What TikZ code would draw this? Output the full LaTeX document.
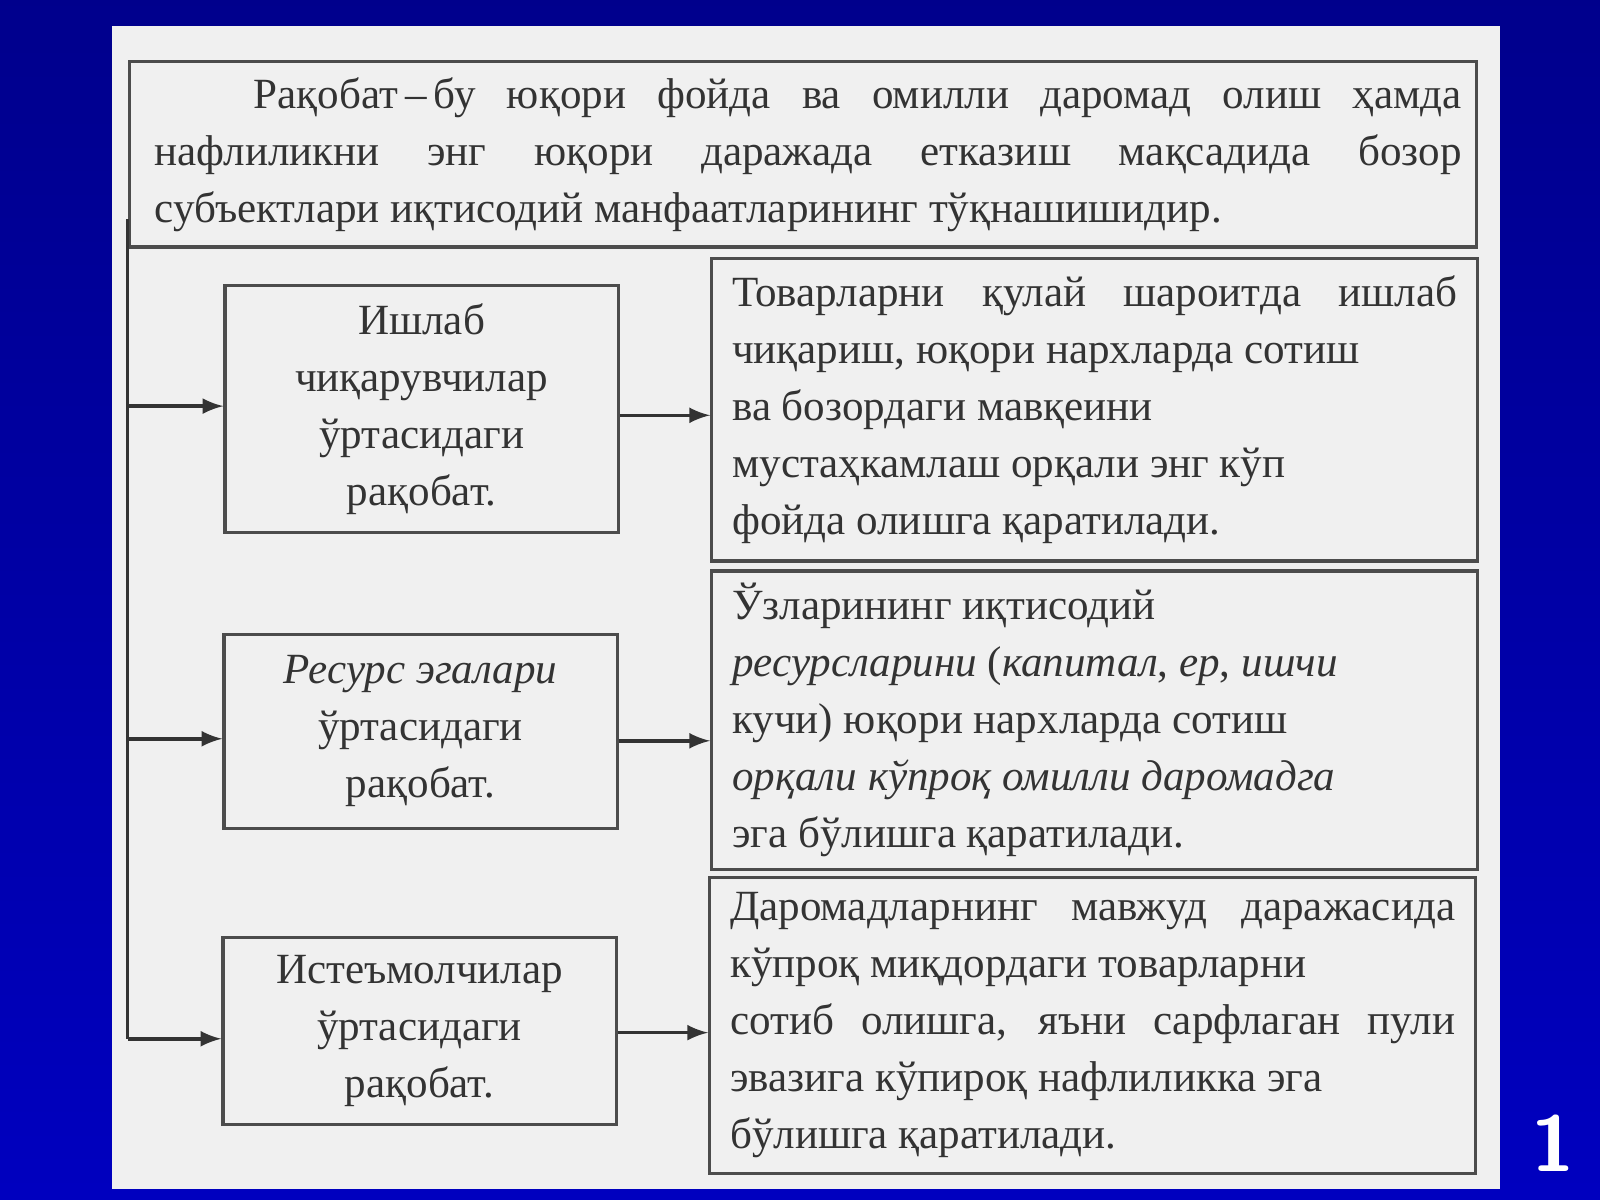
\documentclass[tikz,border=0pt]{standalone}
\usepackage{fontspec}
\setmainfont{Liberation Serif}
\begin{document}
\begin{tikzpicture}[x=0.01cm,y=-0.01cm,
 box/.style={draw=black!70,line width=0.9pt},
 arr/.style={draw=black!80,line width=1pt,-latex},
 txt/.style={font=\fontsize{12pt}{15.9pt}\selectfont,text=black!80,inner sep=0pt}]
\shade[top color=blue!55!black,bottom color=blue!75!black] (0,0) rectangle (1568,1176);
\useasboundingbox (0,0) rectangle (1568,1176);
\fill[gray!12] (110,25) rectangle (1470,1165);
\node[white,font=\bfseries\sffamily\fontsize{22pt}{22pt}\selectfont] (num) at (1522,1120) {1};
\draw[box] (127,60) rectangle (1447,242);
\node[txt,text width=12.8cm,align=justify,anchor=north] (top) at (792,75) {\hspace*{2.3em}Рақобат\,–\,бу юқори фойда ва омилли даромад олиш ҳамда\linebreak нафлиликни энг юқори даражада етказиш мақсадида бозор\linebreak субъектлари иқтисодий манфаатларининг тўқнашишидир.};
\node[box,minimum width=3.85cm,minimum height=2.42cm,anchor=north west,txt,align=center] (l1) at (219,278) {Ишлаб\\чиқарувчилар\\ўртасидаги\\рақобат.};
\node[box,minimum width=3.85cm,minimum height=1.9cm,anchor=north west,txt,align=center] (l2) at (218,620) {\textit{Ресурс эгалари}\\ўртасидаги\\рақобат.};
\node[box,minimum width=3.85cm,minimum height=1.83cm,anchor=north west,txt,align=center] (l3) at (217,917) {Истеъмолчилар\\ўртасидаги\\рақобат.};
\node[box,minimum width=7.5cm,minimum height=2.96cm,anchor=north west,txt,align=justify,text width=7.1cm] (r1) at (696,252) {Товарларни қулай шароитда ишлаб\linebreak чиқариш, юқори нархларда сотиш\\ва бозордаги мавқеини\\мустаҳкамлаш орқали энг кўп\\фойда олишга қаратилади.};
\node[box,minimum width=7.5cm,minimum height=2.92cm,anchor=north west,txt,align=justify,text width=7.1cm] (r2) at (696,558) {Ўзларининг иқтисодий\\\textit{ресурсларини} (\textit{капитал}, \textit{ер}, \textit{ишчи}\\кучи) юқори нархларда сотиш\\\textit{орқали кўпроқ омилли даромадга}\\эга бўлишга қаратилади.};
\node[box,minimum width=7.5cm,minimum height=2.9cm,anchor=north west,txt,align=justify,text width=7.1cm] (r3) at (694,858) {Даромадларнинг мавжуд даражасида\linebreak кўпроқ миқдордаги товарларни\\сотиб олишга, яъни сарфлаган пули\linebreak эвазига кўпироқ нафлиликка эга\\бўлишга қаратилади.};
\coordinate (vt) at (125,215);
\coordinate (vb) at (125,1018);
\draw[black!80,line width=1pt] (vt) -- (vb);
\draw[arr] (125,398) -- (l1.west|-0,398);
\draw[arr] (125,724) -- (l2.west|-0,724);
\draw[arr] (vb) -- (l3.west|-0,1018);
\draw[arr] (l1.east|-0,407) -- (r1.west|-0,407);
\draw[arr] (l2.east|-0,726) -- (r2.west|-0,726);
\draw[arr] (l3.east|-0,1012) -- (r3.west|-0,1012);
\end{tikzpicture}
\end{document}
